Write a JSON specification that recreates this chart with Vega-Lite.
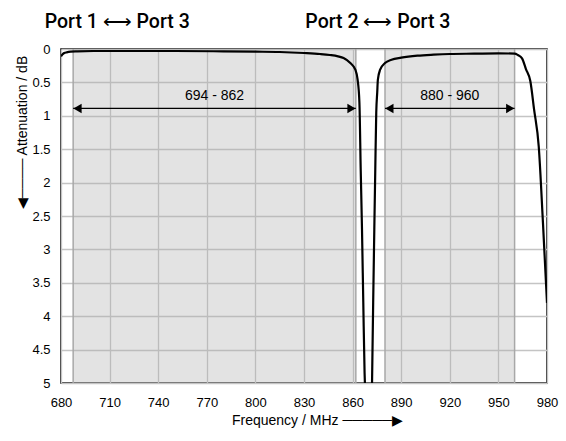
{
  "$schema": "https://vega.github.io/schema/vega-lite/v6.json",
  "width": 486,
  "height": 334,
  "autosize": {"type": "none"},
  "padding": {"left": 61, "top": 49, "right": 19, "bottom": 58},
  "config": {
    "view": {"stroke": "black", "strokeWidth": 1.5},
    "axis": {
      "domain": false, "ticks": false, "tickSize": 0, "grid": true,
      "gridColor": "#c4c4c4", "gridWidth": 1.3,
      "labelFont": "Liberation Sans", "labelFontSize": 13, "labelColor": "black",
      "labelFlush": false, "labelOverlap": false,
      "titleFont": "Liberation Sans", "titleFontSize": 14, "titleFontWeight": "normal", "titleColor": "black"
    }
  },
  "datasets": {
    "bands": [
      {"f": 687.5, "f2": 862, "mid": 774.75, "label": "694 - 862"},
      {"f": 880, "f2": 960, "mid": 920, "label": "880 - 960"}
    ],
    "edges": [{"f": 687.5}, {"f": 862}, {"f": 880}, {"f": 960}],
    "heads": [
      {"f": 690.2, "dir": "triangle-left"},
      {"f": 859.3, "dir": "triangle-right"},
      {"f": 882.7, "dir": "triangle-left"},
      {"f": 957.3, "dir": "triangle-right"}
    ],
    "titles": [
      {"f": 714.7, "label": "Port 1 ⟷ Port 3"},
      {"f": 875.6, "label": "Port 2 ⟷ Port 3"}
    ],
    "curves": [
      {"s": "P1", "f": 680, "att": 0.11},
      {"s": "P1", "f": 681, "att": 0.08},
      {"s": "P1", "f": 682, "att": 0.06},
      {"s": "P1", "f": 683.5, "att": 0.05},
      {"s": "P1", "f": 686, "att": 0.04},
      {"s": "P1", "f": 690, "att": 0.035},
      {"s": "P1", "f": 700, "att": 0.03},
      {"s": "P1", "f": 720, "att": 0.03},
      {"s": "P1", "f": 750, "att": 0.03},
      {"s": "P1", "f": 780, "att": 0.035},
      {"s": "P1", "f": 800, "att": 0.04},
      {"s": "P1", "f": 815, "att": 0.045},
      {"s": "P1", "f": 830, "att": 0.06},
      {"s": "P1", "f": 840, "att": 0.075},
      {"s": "P1", "f": 846, "att": 0.09},
      {"s": "P1", "f": 851, "att": 0.11},
      {"s": "P1", "f": 854.4, "att": 0.135},
      {"s": "P1", "f": 858.6, "att": 0.21},
      {"s": "P1", "f": 861.7, "att": 0.31},
      {"s": "P1", "f": 863.1, "att": 0.46},
      {"s": "P1", "f": 864.2, "att": 0.8},
      {"s": "P1", "f": 865, "att": 1.8},
      {"s": "P1", "f": 865.8, "att": 2.7},
      {"s": "P1", "f": 866.6, "att": 3.8},
      {"s": "P1", "f": 867.4, "att": 4.85},
      {"s": "P1", "f": 867.6, "att": 5.0},
      {"s": "P2", "f": 872.0, "att": 5.0},
      {"s": "P2", "f": 872.7, "att": 3.8},
      {"s": "P2", "f": 873.4, "att": 2.7},
      {"s": "P2", "f": 874.0, "att": 1.8},
      {"s": "P2", "f": 874.6, "att": 0.95},
      {"s": "P2", "f": 875.2, "att": 0.65},
      {"s": "P2", "f": 875.6, "att": 0.46},
      {"s": "P2", "f": 877, "att": 0.31},
      {"s": "P2", "f": 880, "att": 0.21},
      {"s": "P2", "f": 884, "att": 0.16},
      {"s": "P2", "f": 890, "att": 0.13},
      {"s": "P2", "f": 900, "att": 0.1},
      {"s": "P2", "f": 910, "att": 0.085},
      {"s": "P2", "f": 920, "att": 0.075},
      {"s": "P2", "f": 935, "att": 0.07},
      {"s": "P2", "f": 950, "att": 0.065},
      {"s": "P2", "f": 960, "att": 0.07},
      {"s": "P2", "f": 962, "att": 0.09},
      {"s": "P2", "f": 964.6, "att": 0.14},
      {"s": "P2", "f": 967, "att": 0.3},
      {"s": "P2", "f": 969.7, "att": 0.48},
      {"s": "P2", "f": 972, "att": 0.9},
      {"s": "P2", "f": 974.9, "att": 1.46},
      {"s": "P2", "f": 977.5, "att": 2.6},
      {"s": "P2", "f": 980, "att": 3.8}
    ]
  },
  "layer": [
    {
      "data": {"name": "bands"},
      "mark": {"type": "rect", "fill": "#b0b0b0", "opacity": 0.35},
      "encoding": {
        "x": {"field": "f", "type": "quantitative", "title": "Frequency / MHz   ─────▶",
              "scale": {"domain": [680, 980], "nice": false, "zero": false},
              "axis": {"grid": true, "values": [680, 710, 740, 770, 800, 830, 860, 890, 920, 950, 980], "labelPadding": 13,
                       "titleX": 256, "titleY": 37, "titleBaseline": "middle", "titleAlign": "center"}},
        "x2": {"field": "f2"}
      }
    },
    {
      "data": {"name": "edges"},
      "mark": {"type": "rule", "color": "#a8a8a8", "strokeWidth": 1.5},
      "encoding": {"x": {"field": "f", "type": "quantitative", "title": "Frequency / MHz   ─────▶",
              "axis": {"grid": true, "values": [680, 710, 740, 770, 800, 830, 860, 890, 920, 950, 980], "labelPadding": 13,
                       "titleX": 256, "titleY": 37, "titleBaseline": "middle", "titleAlign": "center"}}}
    },
    {
      "data": {"name": "curves"},
      "mark": {"type": "line", "color": "black", "strokeWidth": 2.2, "interpolate": "monotone", "clip": true},
      "encoding": {
        "x": {"field": "f", "type": "quantitative", "title": "Frequency / MHz   ─────▶",
              "axis": {"grid": true, "values": [680, 710, 740, 770, 800, 830, 860, 890, 920, 950, 980], "labelPadding": 13,
                       "titleX": 256, "titleY": 37, "titleBaseline": "middle", "titleAlign": "center"}},
        "y": {"field": "att", "type": "quantitative", "title": "◀────  Attenuation / dB",
              "scale": {"domain": [0, 5], "reverse": true, "nice": false, "zero": false},
              "axis": {"grid": true, "values": [0, 0.5, 1, 1.5, 2, 2.5, 3, 3.5, 4, 4.5, 5], "format": "~g", "labelPadding": 11,
                       "titleX": -39, "titleY": 83, "titleAngle": -90, "titleBaseline": "middle", "titleAlign": "center"}},
        "detail": {"field": "s"}
      }
    },
    {
      "data": {"name": "bands"},
      "mark": {"type": "rule", "color": "black", "strokeWidth": 1.3},
      "encoding": {
        "x": {"field": "f", "type": "quantitative", "title": "Frequency / MHz   ─────▶",
              "axis": {"grid": true, "values": [680, 710, 740, 770, 800, 830, 860, 890, 920, 950, 980], "labelPadding": 13,
                       "titleX": 256, "titleY": 37, "titleBaseline": "middle", "titleAlign": "center"}},
        "x2": {"field": "f2"},
        "y": {"datum": 0.89, "type": "quantitative", "title": "◀────  Attenuation / dB",
              "axis": {"grid": true, "values": [0, 0.5, 1, 1.5, 2, 2.5, 3, 3.5, 4, 4.5, 5], "format": "~g", "labelPadding": 11,
                       "titleX": -39, "titleY": 83, "titleAngle": -90, "titleBaseline": "middle", "titleAlign": "center"}}
      }
    },
    {
      "data": {"name": "heads"},
      "mark": {"type": "point", "filled": true, "color": "black", "opacity": 1, "size": 90},
      "encoding": {
        "x": {"field": "f", "type": "quantitative", "title": "Frequency / MHz   ─────▶",
              "axis": {"grid": true, "values": [680, 710, 740, 770, 800, 830, 860, 890, 920, 950, 980], "labelPadding": 13,
                       "titleX": 256, "titleY": 37, "titleBaseline": "middle", "titleAlign": "center"}},
        "y": {"datum": 0.89, "type": "quantitative", "title": "◀────  Attenuation / dB",
              "axis": {"grid": true, "values": [0, 0.5, 1, 1.5, 2, 2.5, 3, 3.5, 4, 4.5, 5], "format": "~g", "labelPadding": 11,
                       "titleX": -39, "titleY": 83, "titleAngle": -90, "titleBaseline": "middle", "titleAlign": "center"}},
        "shape": {"field": "dir", "type": "nominal", "scale": null}
      }
    },
    {
      "data": {"name": "bands"},
      "mark": {"type": "text", "font": "Liberation Sans", "fontSize": 14, "color": "black", "baseline": "middle", "align": "center"},
      "encoding": {
        "x": {"field": "mid", "type": "quantitative", "title": "Frequency / MHz   ─────▶",
              "axis": {"grid": true, "values": [680, 710, 740, 770, 800, 830, 860, 890, 920, 950, 980], "labelPadding": 13,
                       "titleX": 256, "titleY": 37, "titleBaseline": "middle", "titleAlign": "center"}},
        "y": {"datum": 0.7, "type": "quantitative", "title": "◀────  Attenuation / dB",
              "axis": {"grid": true, "values": [0, 0.5, 1, 1.5, 2, 2.5, 3, 3.5, 4, 4.5, 5], "format": "~g", "labelPadding": 11,
                       "titleX": -39, "titleY": 83, "titleAngle": -90, "titleBaseline": "middle", "titleAlign": "center"}},
        "text": {"field": "label"}
      }
    },
    {
      "data": {"name": "titles"},
      "mark": {"type": "text", "font": "Roboto", "fontSize": 19.5, "fontWeight": 500, "color": "black", "baseline": "alphabetic", "align": "center"},
      "encoding": {
        "x": {"field": "f", "type": "quantitative", "title": "Frequency / MHz   ─────▶",
              "axis": {"grid": true, "values": [680, 710, 740, 770, 800, 830, 860, 890, 920, 950, 980], "labelPadding": 13,
                       "titleX": 256, "titleY": 37, "titleBaseline": "middle", "titleAlign": "center"}},
        "y": {"datum": -0.32, "type": "quantitative", "title": "◀────  Attenuation / dB",
              "axis": {"grid": true, "values": [0, 0.5, 1, 1.5, 2, 2.5, 3, 3.5, 4, 4.5, 5], "format": "~g", "labelPadding": 11,
                       "titleX": -39, "titleY": 83, "titleAngle": -90, "titleBaseline": "middle", "titleAlign": "center"}},
        "text": {"field": "label"}
      }
    }
  ]
}
